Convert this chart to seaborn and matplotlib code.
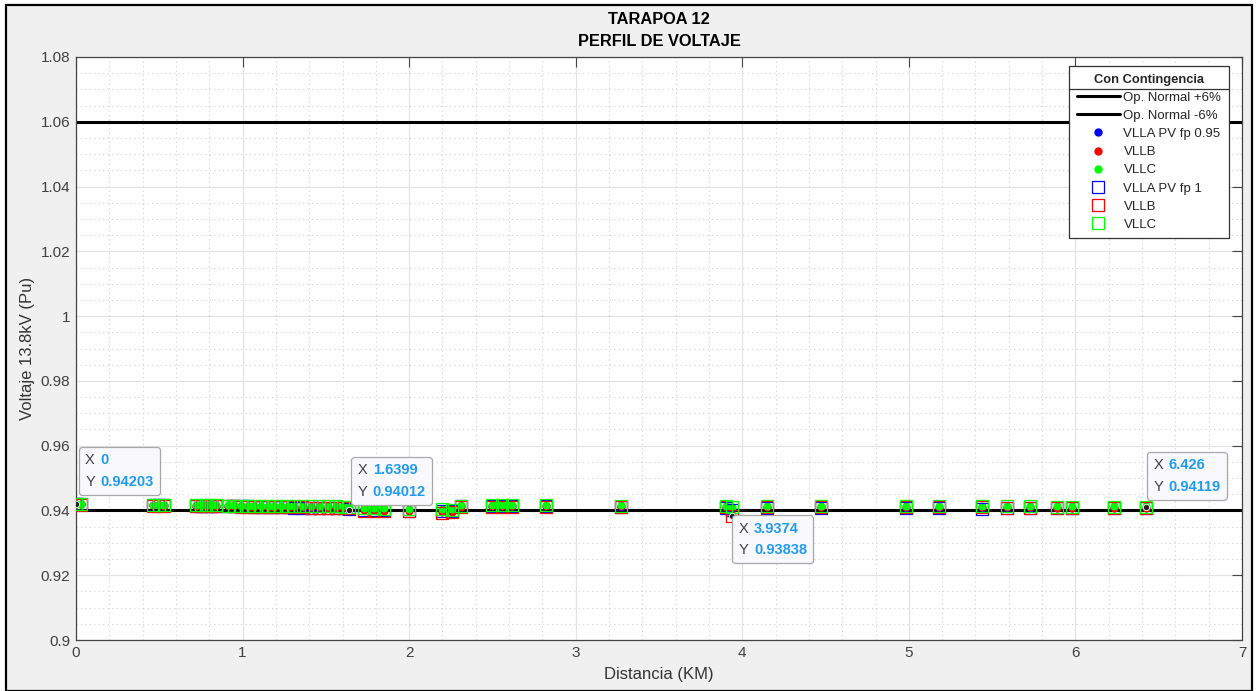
import matplotlib
matplotlib.use("Agg")
import matplotlib.pyplot as plt
import seaborn as sns
import pandas as pd
from matplotlib.lines import Line2D
from matplotlib.patches import Rectangle
from matplotlib.offsetbox import TextArea, HPacker, AnnotationBbox
from matplotlib.ticker import MultipleLocator, FuncFormatter

sns.set_style("white")
plt.rcParams['font.family'] = ['Liberation Sans', 'DejaVu Sans']

# ---------------- data ----------------
dist = [0.00, 0.03, 0.46, 0.50, 0.53, 0.72, 0.75, 0.78, 0.81, 0.84,
        0.91, 0.95, 0.99, 1.03, 1.07, 1.11, 1.15, 1.19, 1.23, 1.27,
        1.31, 1.36, 1.41, 1.46, 1.51, 1.56, 1.60, 1.64, 1.73, 1.79,
        1.85, 2.00, 2.20, 2.26, 2.31, 2.50, 2.56, 2.62, 2.82, 3.27,
        3.90, 3.94, 4.15, 4.47, 4.98, 5.18, 5.44, 5.59, 5.73, 5.89,
        5.98, 6.23, 6.426]

vlla_fp095 = [0.94200, 0.94188, 0.94163, 0.94160, 0.94158, 0.94151, 0.94148, 0.94146, 0.94144, 0.94142,
              0.94138, 0.94134, 0.94130, 0.94126, 0.94122, 0.94118, 0.94114, 0.94110, 0.94105, 0.94100,
              0.94095, 0.94088, 0.94084, 0.94080, 0.94077, 0.94075, 0.94072, 0.94012, 0.94030, 0.94025,
              0.94020, 0.94005, 0.93985, 0.93990, 0.94130, 0.94140, 0.94139, 0.94138, 0.94137, 0.94100,
              0.94090, 0.94035, 0.94095, 0.94093, 0.94085, 0.94083, 0.94062, 0.94075, 0.94090, 0.94087,
              0.94085, 0.94087, 0.94090]
vllb_fp095 = [0.94195, 0.94184, 0.94155, 0.94153, 0.94150, 0.94143, 0.94140, 0.94138, 0.94136, 0.94134,
              0.94130, 0.94127, 0.94124, 0.94121, 0.94118, 0.94115, 0.94112, 0.94109, 0.94106, 0.94103,
              0.94100, 0.94097, 0.94094, 0.94091, 0.94088, 0.94085, 0.94082, 0.94075, 0.94005, 0.94000,
              0.93995, 0.93980, 0.93945, 0.93950, 0.94118, 0.94125, 0.94124, 0.94123, 0.94122, 0.94125,
              0.94108, 0.93870, 0.94112, 0.94115, 0.94107, 0.94105, 0.94102, 0.94097, 0.94092, 0.94089,
              0.94087, 0.94087, 0.94089]
vllc_fp095 = [0.94203, 0.94198, 0.94175, 0.94172, 0.94170, 0.94165, 0.94163, 0.94161, 0.94160, 0.94158,
              0.94155, 0.94153, 0.94151, 0.94150, 0.94148, 0.94146, 0.94145, 0.94143, 0.94142, 0.94140,
              0.94138, 0.94136, 0.94134, 0.94132, 0.94130, 0.94128, 0.94126, 0.94120, 0.94078, 0.94073,
              0.94068, 0.94053, 0.94038, 0.94036, 0.94155, 0.94163, 0.94162, 0.94161, 0.94160, 0.94155,
              0.94140, 0.94112, 0.94145, 0.94143, 0.94137, 0.94135, 0.94132, 0.94130, 0.94128, 0.94126,
              0.94125, 0.94124, 0.94124]
vlla_fp1 = [0.94198, 0.94186, 0.94160, 0.94157, 0.94155, 0.94148, 0.94145, 0.94143, 0.94141, 0.94139,
            0.94135, 0.94130, 0.94126, 0.94122, 0.94118, 0.94114, 0.94110, 0.94106, 0.94100, 0.94095,
            0.94090, 0.94082, 0.94078, 0.94075, 0.94072, 0.94070, 0.94068, 0.94060, 0.94020, 0.94015,
            0.94010, 0.93995, 0.93975, 0.93980, 0.94125, 0.94135, 0.94134, 0.94133, 0.94132, 0.94095,
            0.94085, 0.94025, 0.94090, 0.94088, 0.94080, 0.94078, 0.94055, 0.94070, 0.94085, 0.94082,
            0.94080, 0.94082, 0.94085]
vllb_fp1 = [0.94190, 0.94180, 0.94150, 0.94148, 0.94145, 0.94138, 0.94135, 0.94133, 0.94131, 0.94129,
            0.94125, 0.94122, 0.94119, 0.94116, 0.94113, 0.94110, 0.94107, 0.94104, 0.94101, 0.94098,
            0.94095, 0.94092, 0.94089, 0.94086, 0.94083, 0.94080, 0.94077, 0.94070, 0.93995, 0.93990,
            0.93985, 0.93970, 0.93935, 0.93940, 0.94110, 0.94118, 0.94117, 0.94116, 0.94115, 0.94118,
            0.94100, 0.93838, 0.94105, 0.94108, 0.94100, 0.94098, 0.94095, 0.94090, 0.94085, 0.94082,
            0.94080, 0.94080, 0.94082]
vllc_fp1 = [0.94205, 0.94195, 0.94170, 0.94168, 0.94165, 0.94160, 0.94158, 0.94156, 0.94155, 0.94153,
            0.94150, 0.94148, 0.94146, 0.94145, 0.94143, 0.94141, 0.94140, 0.94138, 0.94137, 0.94135,
            0.94133, 0.94131, 0.94129, 0.94127, 0.94125, 0.94123, 0.94121, 0.94115, 0.94070, 0.94065,
            0.94060, 0.94045, 0.94030, 0.94028, 0.94150, 0.94158, 0.94157, 0.94156, 0.94155, 0.94150,
            0.94135, 0.94105, 0.94140, 0.94138, 0.94132, 0.94130, 0.94127, 0.94125, 0.94123, 0.94121,
            0.94120, 0.94119, 0.94119]

limit_values = [1.06, 0.94]
limit_labels = ["Op. Normal +6%", "Op. Normal -6%"]

tips_x = [0, 1.6399, 3.9374, 6.426]
tips_y = [0.94203, 0.94012, 0.93838, 0.94119]
tips_xtxt = ["0", "1.6399", "3.9374", "6.426"]
tips_ytxt = ["0.94203", "0.94012", "0.93838", "0.94119"]

title = "TARAPOA 12\nPERFIL DE VOLTAJE"
xlabel = "Distancia (KM)"
ylabel = "Voltaje 13.8kV (Pu)"
legend_title = "Con Contingencia"

# ---------------- figure ----------------
W, H = 1257, 691
fig = plt.figure(figsize=(W / 100, H / 100), dpi=100, facecolor="white")
bg = Rectangle((6 / W, 0), 1246 / W, (H - 5) / H, transform=fig.transFigure,
               facecolor="#f0f0f0", edgecolor="black", lw=1.6, zorder=-10)
fig.patches.append(bg)

ax = fig.add_axes([76 / W, 1 - 640 / H, (1242 - 76) / W, (640 - 57) / H])
ax.set_facecolor("white")

for val in limit_values:
    ax.axhline(val, color="black", lw=2.2, zorder=2)

df = pd.DataFrame({"dist": dist,
                   "A095": vlla_fp095, "B095": vllb_fp095, "C095": vllc_fp095,
                   "A1": vlla_fp1, "B1": vllb_fp1, "C1": vllc_fp1})

dot_series = [("A095", "#0000ff"), ("B095", "#ff0000"), ("C095", "#00ff00")]
sq_series = [("A1", "#0000ff"), ("B1", "#ff0000"), ("C1", "#00ff00")]
DOT_MS, SQ_MS = 5.0, 8.5

for col, c in dot_series:
    sns.lineplot(data=df, x="dist", y=col, ax=ax, sort=False, estimator=None,
                 linestyle="", marker="o", markersize=DOT_MS, markerfacecolor=c,
                 markeredgecolor=c, color=c, zorder=3)
for col, c in sq_series:
    sns.lineplot(data=df, x="dist", y=col, ax=ax, sort=False, estimator=None,
                 linestyle="", marker="s", markersize=SQ_MS, markerfacecolor="none",
                 markeredgecolor=c, markeredgewidth=0.9, color=c, zorder=4)

ax.set_xlim(0, 7)
ax.set_ylim(0.9, 1.08)
ax.xaxis.set_major_locator(MultipleLocator(1))
ax.xaxis.set_minor_locator(MultipleLocator(0.2))
ax.yaxis.set_major_locator(MultipleLocator(0.02))
ax.yaxis.set_minor_locator(MultipleLocator(0.005))
ax.yaxis.set_major_formatter(FuncFormatter(lambda v, p: f"{v:g}"))
ax.grid(which="major", color="#e3e3e3", lw=0.9, ls="-", zorder=0)
ax.grid(which="minor", color="#cfcfcf", lw=0.8, ls=(0, (1, 3)), zorder=0)
ax.set_axisbelow(True)
ax.tick_params(which="major", direction="in", length=7, width=0.8, color="#444444",
               top=True, right=True, labelsize=11, labelcolor="#404040", pad=4)
ax.tick_params(which="minor", length=0)
for s in ax.spines.values():
    s.set_color("#444444")
    s.set_linewidth(0.9)

ax.set_xlabel(xlabel, fontsize=12, color="#333333", labelpad=5)
ax.set_ylabel(ylabel, fontsize=12, color="#333333", labelpad=4)
ax.set_title(title, fontsize=11.8, fontweight="bold", color="black", pad=8, linespacing=1.6)

# legend
handles = [Line2D([], [], color="black", lw=2.2, label=limit_labels[0]),
           Line2D([], [], color="black", lw=2.2, label=limit_labels[1])]
names = ["VLLA PV fp 0.95", "VLLB", "VLLC"]
for (col, c), n in zip(dot_series, names):
    handles.append(Line2D([], [], ls="", marker="o", ms=DOT_MS, color=c, label=n))
names2 = ["VLLA PV fp 1", "VLLB", "VLLC"]
for (col, c), n in zip(sq_series, names2):
    handles.append(Line2D([], [], ls="", marker="s", ms=SQ_MS, mfc="none", mec=c, mew=0.9, label=n))
leg = ax.legend(handles=handles, loc="upper right", bbox_to_anchor=(0.9885, 0.984),
                title=legend_title, fontsize=9.5, title_fontproperties={"weight": "bold", "size": 9.3},
                frameon=True, fancybox=False, framealpha=1, edgecolor="#333333",
                handlelength=3.3, handletextpad=0.25, labelspacing=0.45, borderpad=0.55,
                borderaxespad=0)
leg.get_frame().set_linewidth(0.9)

# data tips
tip_offsets = [((6.6, 10.8), (0, 0)), ((6, 8), (0, 0)), ((4.9, -4.2), (0, 1)), ((4.9, 9.3), (0, 0))]
for x, y, xt, yt, (off, align) in zip(tips_x, tips_y, tips_xtxt, tips_ytxt, tip_offsets):
    ax.plot([x], [y], marker="o", ms=4.5, color="#222222", mec="white", mew=0.6, zorder=6, ls="")
    lab = TextArea("X\nY", textprops=dict(color="#404040", fontsize=10.5, linespacing=1.7))
    valt = TextArea(f"{xt}\n{yt}", textprops=dict(color="#1f9bf0", fontsize=10.5,
                                                    fontweight="bold", linespacing=1.7))
    pack = HPacker(children=[lab, valt], sep=4, pad=0, align="baseline")
    ab = AnnotationBbox(pack, (x, y), xybox=off, xycoords="data", boxcoords="offset points",
                        box_alignment=align, frameon=True,
                        bboxprops=dict(boxstyle="round,pad=0.45,rounding_size=0.25",
                                       facecolor="#f8f8fd", edgecolor="#a8a8a8", lw=0.9))
    ab.set_zorder(7)
    ax.add_artist(ab)

# separator line under legend title
fig.canvas.draw()
lb = leg.get_window_extent()
tb = leg.get_title().get_window_extent()
ysep = tb.y0 - 3
inv = fig.transFigure.inverted()
(x0, y0), (x1, _) = inv.transform([(lb.x0, ysep), (lb.x1, ysep)])
fig.add_artist(Line2D([x0, x1], [y0, y0], transform=fig.transFigure, color="#333333", lw=0.9, zorder=10))

fig.savefig("out.png", dpi=100, facecolor=fig.get_facecolor())
